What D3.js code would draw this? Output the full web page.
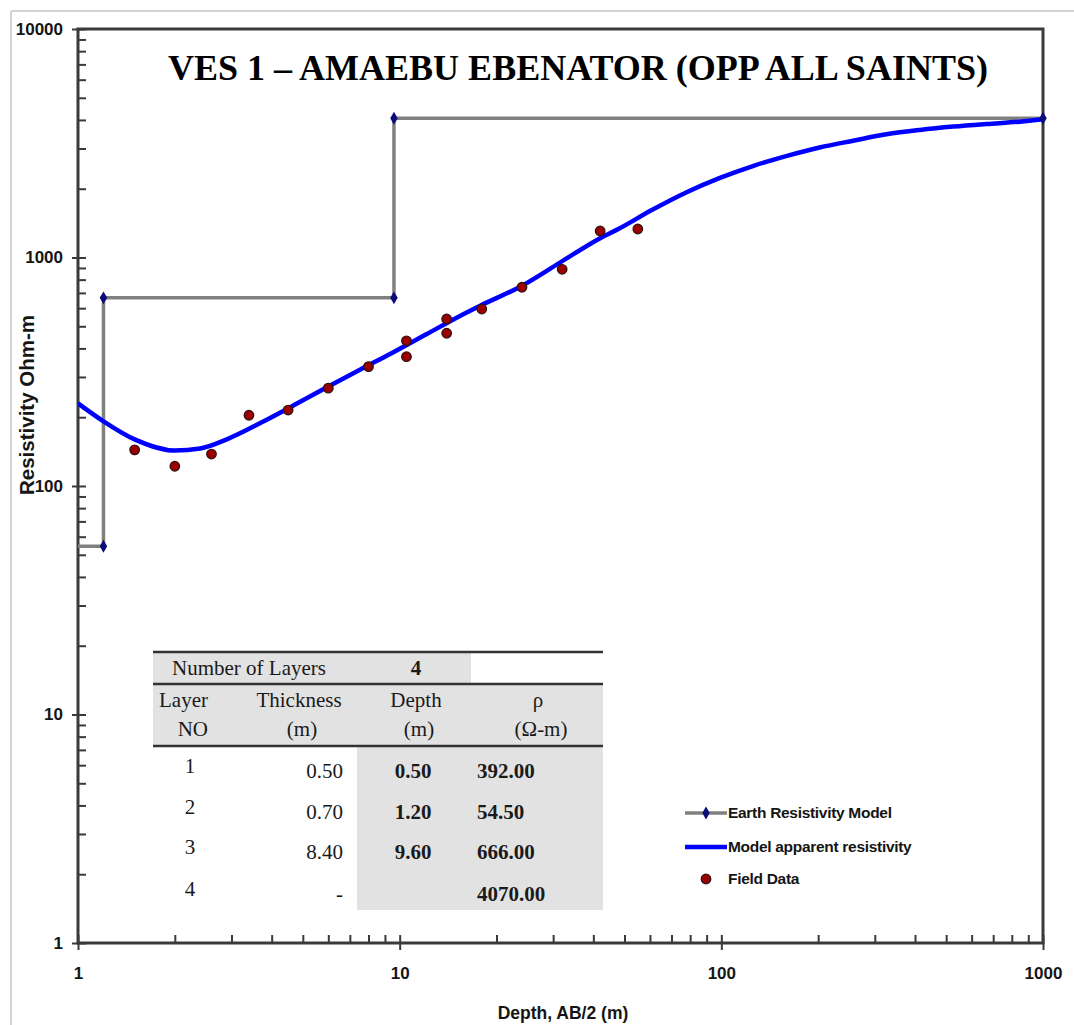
<!DOCTYPE html>
<html>
<head>
<meta charset="utf-8">
<script src="https://cdn.jsdelivr.net/npm/d3@7"></script>
<style>
  html, body { margin: 0; padding: 0; background: #fff; }
  svg { display: block; }
</style>
</head>
<body>
<svg id="chart" width="1074" height="1025"></svg>
<script>
// ---------------- DATA ----------------
const titleText = "VES 1 \u2013 AMAEBU EBENATOR (OPP ALL SAINTS)";
const xLabel = "Depth, AB/2 (m)";
const yLabel = "Resistivity Ohm-m";

const xTickValues = [1, 10, 100, 1000];
const xTickLabels = ["1", "10", "100", "1000"];
const yTickValues = [1, 10, 100, 1000, 10000];
const yTickLabels = ["1", "10", "100", "1000", "10000"];

// Earth resistivity model (step)
const modelDepth = [0.5, 0.5, 1.2, 1.2, 9.6, 9.6, 1000];
const modelRho   = [392, 54.5, 54.5, 666, 666, 4070, 4070];

// Model apparent resistivity curve
const curveAB  = [1, 1.2, 1.5, 2.0, 2.4, 2.9, 3.7, 4.7, 5.9, 7.5, 9.5, 12.1, 15.4, 17.8, 23.7, 31.5, 42, 48, 61, 78, 99, 126, 160, 202, 257, 326, 414, 526, 668, 848, 1000];
const curveRho = [230, 192, 160, 143, 146, 160, 189, 226, 269, 322, 383, 461, 555, 615, 745, 950, 1215, 1335, 1617, 1931, 2230, 2520, 2785, 3030, 3245, 3460, 3615, 3740, 3840, 3930, 4030];

// Field data
const fieldAB  = [1.5, 2.0, 2.6, 3.4, 4.5, 6.0, 8.0, 10.5, 10.5, 14, 14, 18, 24, 32, 42, 55];
const fieldRho = [144, 122, 138, 204, 215, 268, 333, 432, 368, 538, 466, 595, 741, 888, 1306, 1333];

// Table
const numLayersLabel = "Number of Layers";
const numLayers = "4";
const tableHeaders1 = ["Layer", "Thickness", "Depth", "\u03c1"];
const tableHeaders2 = ["NO", "(m)", "(m)", "(\u03a9-m)"];
const layerNo   = ["1", "2", "3", "4"];
const thickness = ["0.50", "0.70", "8.40", "-"];
const depthCol  = ["0.50", "1.20", "9.60", ""];
const rhoCol    = ["392.00", "54.50", "666.00", "4070.00"];

const legendLabels = ["Earth Resistivity Model", "Model apparent resistivity", "Field Data"];

// ---------------- DRAW ----------------
const svg = d3.select("#chart");
const L = 78, R = 1043, T = 29, B = 943;
const x = d3.scaleLog().domain([1, 1000]).range([L, R]);
const y = d3.scaleLog().domain([1, 10000]).range([B, T]);
const sans = "'Liberation Sans', Arial, sans-serif";
const serif = "'Liberation Serif', 'Times New Roman', serif";
const axisCol = "#3a3a3a";

// outer light frame
svg.append("line").attr("x1", 11).attr("y1", 11).attr("x2", 1074).attr("y2", 11)
  .attr("stroke", "#c4c4c4").attr("stroke-width", 1.5);
svg.append("line").attr("x1", 11).attr("y1", 11).attr("x2", 11).attr("y2", 1025)
  .attr("stroke", "#c4c4c4").attr("stroke-width", 1.5);

svg.append("defs").append("clipPath").attr("id", "plotclip")
  .append("rect").attr("x", L).attr("y", T - 6).attr("width", R - L + 6).attr("height", B - T + 6);

// minor tick values
const minorX = [], minorY = [];
for (let d = 1; d < 1000; d *= 10) for (let k = 2; k <= 9; k++) minorX.push(d * k);
for (let d = 1; d < 10000; d *= 10) for (let k = 2; k <= 9; k++) minorY.push(d * k);

const gyIn = svg.append("g").attr("transform", `translate(${L},0)`)
  .call(d3.axisLeft(y).tickValues(minorY.concat(yTickValues)).tickSize(-8).tickSizeOuter(0).tickFormat(""));
const gyOut = svg.append("g").attr("transform", `translate(${L},0)`)
  .call(d3.axisLeft(y).tickValues(yTickValues).tickSize(6).tickSizeOuter(0).tickPadding(9)
    .tickFormat((d, i) => yTickLabels[i]));
const gxIn = svg.append("g").attr("transform", `translate(0,${B})`)
  .call(d3.axisBottom(x).tickValues(minorX.concat(xTickValues)).tickSize(-8).tickSizeOuter(0).tickFormat(""));
const gxOut = svg.append("g").attr("transform", `translate(0,${B})`)
  .call(d3.axisBottom(x).tickValues(xTickValues).tickSize(7).tickSizeOuter(0).tickPadding(17)
    .tickFormat((d, i) => xTickLabels[i]));
[gyIn, gyOut, gxIn, gxOut].forEach(g => {
  g.select(".domain").remove();
  g.selectAll(".tick line").attr("stroke", axisCol).attr("stroke-width", 2);
  g.selectAll("text").attr("font-family", sans).attr("font-size", 17).attr("font-weight", "bold").attr("fill", "#151515");
});

// plot frame
svg.append("rect").attr("x", L).attr("y", T).attr("width", R - L).attr("height", B - T)
  .attr("fill", "none").attr("stroke", axisCol).attr("stroke-width", 3);

// title
svg.append("text").attr("x", 578).attr("y", 80).attr("text-anchor", "middle")
  .attr("font-family", serif).attr("font-weight", "bold").attr("font-size", 36).attr("fill", "#000")
  .text(titleText);

// axis titles
svg.append("text").attr("x", 563).attr("y", 1019).attr("text-anchor", "middle")
  .attr("font-family", sans).attr("font-weight", "bold").attr("font-size", 17.5).attr("fill", "#151515")
  .text(xLabel);
svg.append("text").attr("transform", "translate(34,405) rotate(-90)").attr("text-anchor", "middle")
  .attr("font-family", sans).attr("font-weight", "bold").attr("font-size", 20.5).attr("fill", "#151515")
  .text(yLabel);

const plot = svg.append("g").attr("clip-path", "url(#plotclip)");

// model step line
const modelPts = modelDepth.map((d, i) => [d, modelRho[i]]);
const line = d3.line().x(d => x(d[0])).y(d => y(d[1]));
plot.append("path").datum(modelPts).attr("d", line)
  .attr("fill", "none").attr("stroke", "#808080").attr("stroke-width", 3.5);

// apparent resistivity curve
const curvePts = curveAB.map((d, i) => [d, curveRho[i]]);
plot.append("path").datum(curvePts).attr("d", d3.line().x(d => x(d[0])).y(d => y(d[1])).curve(d3.curveMonotoneX))
  .attr("fill", "none").attr("stroke", "#0000ff").attr("stroke-width", 4.5);

// model markers
const diamond = d3.symbol().type(d3.symbolDiamond).size(48);
plot.selectAll(".dm").data(modelPts).enter().append("path")
  .attr("d", diamond).attr("transform", d => `translate(${x(d[0])},${y(d[1])})`)
  .attr("fill", "#0b0b7a");

// field data
const fieldPts = fieldAB.map((d, i) => [d, fieldRho[i]]);
plot.selectAll(".fd").data(fieldPts).enter().append("circle")
  .attr("cx", d => x(d[0])).attr("cy", d => y(d[1])).attr("r", 4.8)
  .attr("fill", "#9a0000").attr("stroke", "#2a1010").attr("stroke-width", 1.2);

// ---------------- TABLE ----------------
const tb = svg.append("g");
const tL = 153, tR = 603;
tb.append("rect").attr("x", tL).attr("y", 653).attr("width", 471 - tL).attr("height", 30).attr("fill", "#e2e2e2");
tb.append("rect").attr("x", tL).attr("y", 685).attr("width", tR - tL).attr("height", 60).attr("fill", "#e2e2e2");
tb.append("rect").attr("x", 357).attr("y", 747).attr("width", tR - 357).attr("height", 163).attr("fill", "#e2e2e2");
[652, 684, 746].forEach(yy => tb.append("line").attr("x1", tL).attr("x2", tR).attr("y1", yy).attr("y2", yy)
  .attr("stroke", "#333").attr("stroke-width", 2.5));

const tfont = (sel, size, bold) => sel.attr("font-family", serif).attr("font-size", size)
  .attr("font-weight", bold ? "bold" : "normal").attr("fill", "#1a1a1a");

tfont(tb.append("text").attr("x", 172).attr("y", 675).text(numLayersLabel), 21, false);
tfont(tb.append("text").attr("x", 416).attr("y", 675).attr("text-anchor", "middle").text(numLayers), 21, true);

const hx = [208, 299, 416, 538];
const hAnchor = ["end", "middle", "middle", "middle"];
tableHeaders1.forEach((h, i) => tfont(tb.append("text").attr("x", hx[i]).attr("y", 707)
  .attr("text-anchor", hAnchor[i]).text(h), 21, false));
tableHeaders2.forEach((h, i) => tfont(tb.append("text").attr("x", hx[i] + (i === 0 ? 0 : 3)).attr("y", 736)
  .attr("text-anchor", hAnchor[i]).text(h), 21, false));

const rowY = [773, 814, 854, 896];
layerNo.forEach((v, i) => tfont(tb.append("text").attr("x", 190).attr("y", rowY[i])
  .attr("text-anchor", "middle").text(v), 21, false));
thickness.forEach((v, i) => tfont(tb.append("text").attr("x", 343).attr("y", rowY[i] + 5)
  .attr("text-anchor", "end").text(v), 21, false));
depthCol.forEach((v, i) => tfont(tb.append("text").attr("x", 413).attr("y", rowY[i] + 5)
  .attr("text-anchor", "middle").text(v), 21, true));
rhoCol.forEach((v, i) => tfont(tb.append("text").attr("x", 477).attr("y", rowY[i] + 5)
  .attr("text-anchor", "start").text(v), 21, true));

// ---------------- LEGEND ----------------
const lg = svg.append("g");
const ly = [813, 847, 879];
lg.append("line").attr("x1", 685).attr("x2", 727).attr("y1", ly[0]).attr("y2", ly[0])
  .attr("stroke", "#808080").attr("stroke-width", 3.5);
lg.append("path").attr("d", diamond).attr("transform", `translate(706,${ly[0]})`).attr("fill", "#0b0b7a");
lg.append("line").attr("x1", 685).attr("x2", 727).attr("y1", ly[1]).attr("y2", ly[1])
  .attr("stroke", "#0000ff").attr("stroke-width", 4.5);
lg.append("circle").attr("cx", 706).attr("cy", ly[2]).attr("r", 4.8)
  .attr("fill", "#9a0000").attr("stroke", "#2a1010").attr("stroke-width", 1.2);
legendLabels.forEach((t, i) => lg.append("text").attr("x", 728).attr("y", ly[i]).attr("dy", "0.35em")
  .attr("font-family", sans).attr("font-size", 15.5).attr("font-weight", "bold").attr("fill", "#151515")
  .attr("letter-spacing", -0.3).text(t));
</script>
</body>
</html>
